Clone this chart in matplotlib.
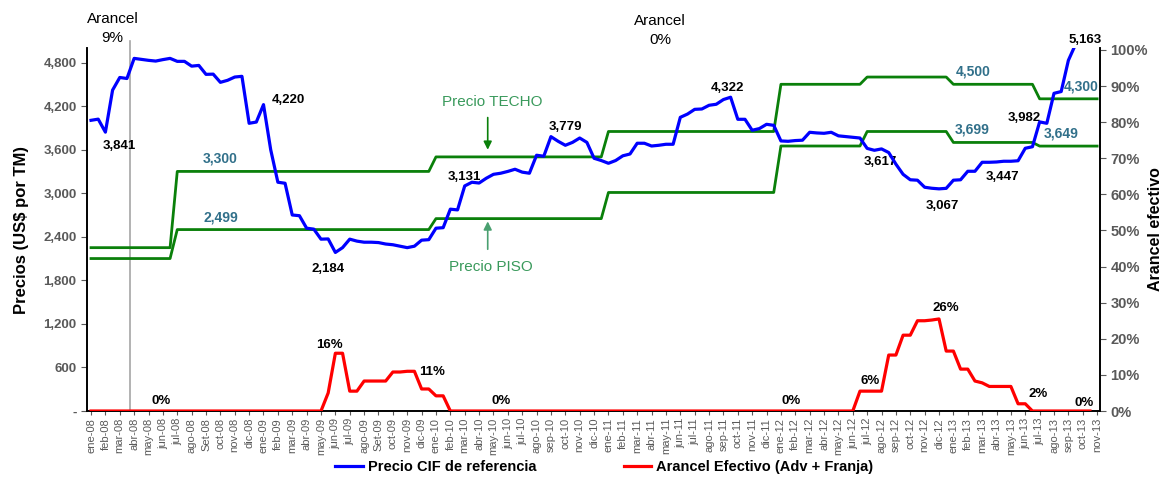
import numpy as np
import matplotlib.pyplot as plt
from matplotlib.ticker import FixedLocator, FuncFormatter

plt.rcParams['font.family'] = ['Liberation Sans', 'DejaVu Sans']

# month labels (ene-08 .. nov-13)
meses = ['ene', 'feb', 'mar', 'abr', 'may', 'jun', 'jul', 'ago', 'sep', 'oct', 'nov', 'dic']
labels = []
for yr in range(8, 14):
    for m in meses:
        if m == 'sep' and yr in (8, 9):
            m = 'Set'
        labels.append(f'{m}-{yr:02d}')
labels = labels[:71]

# Precio CIF de referencia (semi-monthly, US$/TM)
cif = [4004, 4020, 3841, 4420, 4594, 4580, 4857, 4843, 4830, 4820,
       4840, 4857, 4816, 4816, 4750, 4760, 4637, 4640, 4527, 4555,
       4600, 4610, 3963, 3980, 4220, 3600, 3151, 3137, 2700, 2690,
       2518, 2505, 2367, 2370, 2184, 2250, 2367, 2340, 2325, 2325,
       2320, 2300, 2290, 2270, 2250, 2270, 2353, 2360, 2518, 2525,
       2780, 2770, 3100, 3151, 3140, 3206, 3260, 3275, 3300, 3330,
       3290, 3275, 3523, 3509, 3779, 3715, 3660, 3700, 3760, 3700,
       3481, 3450, 3412, 3450, 3515, 3540, 3688, 3688, 3650, 3660,
       3674, 3674, 4045, 4090, 4155, 4160, 4211, 4225, 4290, 4322,
       4018, 4018, 3867, 3890, 3949, 3935, 3720, 3715, 3725, 3730,
       3839, 3830, 3825, 3839, 3790, 3780, 3770, 3760, 3617, 3591,
       3610, 3560, 3400, 3260, 3185, 3179, 3082, 3068, 3060, 3067,
       3179, 3185, 3302, 3302, 3426, 3426, 3430, 3440, 3440, 3447,
       3619, 3640, 3982, 3963, 4376, 4400, 4830, 5050, 5163]

# Franja de precios (level, number of half-months)
techo_niveles = [2250, 3300, 3500, 3850, 4500, 4600, 4500, 4300]
piso_niveles = [2100, 2499, 2650, 3010, 3650, 3850, 3699, 3649]
duracion = [12, 36, 24, 24, 12, 12, 12, 9]

# Arancel efectivo (semi-monthly, %)
arancel = [0] * 33 + [5, 16, 16, 5.5, 5.5, 8.3, 8.3, 8.3, 8.3, 10.8,
                      10.8, 11, 11, 6.1, 6.1, 4.2, 4.2] + [0] * 57 + \
          [5.5, 5.5, 5.5, 5.5, 15.5, 15.5, 21, 21, 25, 25,
           25.2, 25.5, 16.6, 16.6, 11.6, 11.6, 8.3, 7.8, 6.8, 6.8,
           6.8, 6.8, 2, 2] + [0] * 9

techo = np.repeat(techo_niveles, duracion)
piso = np.repeat(piso_niveles, duracion)
t_cif = np.arange(len(cif)) / 2
t_franja = np.arange(len(techo)) / 2
t_ar = np.arange(len(arancel)) / 2

fig = plt.figure(figsize=(11.64, 4.79), dpi=100)
ax = fig.add_axes([87 / 1164, 1 - 411 / 479, (1100 - 87) / 1164, (411 - 48) / 479])
ax2 = ax.twinx()

green = '#0a800a'
ax.plot(t_franja, techo, color=green, lw=2.0, zorder=3)
ax.plot(t_franja, piso, color=green, lw=2.0, zorder=3)
ax.plot(t_cif, cif, color='#0000ff', lw=2.3, zorder=4, label='Precio CIF de referencia')
ax2.plot(t_ar, np.array(arancel) / 100, color='#ff0000', lw=2.3, zorder=4,
         label='Arancel Efectivo (Adv + Franja)')

ax.set_xlim(-0.28, 70.2)
ax.set_ylim(0, 5000)
ax2.set_ylim(0, 1.0055)

gray = '#595959'
ax.yaxis.set_major_locator(FixedLocator(np.arange(0, 5000, 600)))
ax.yaxis.set_major_formatter(FuncFormatter(lambda v, p: '-' if v == 0 else f'{v:,.0f}'))
ax.tick_params(axis='y', labelsize=9.5, labelcolor=gray, length=4, color=gray)
for lb in ax.get_yticklabels():
    lb.set_fontweight('bold')
ax2.yaxis.set_major_locator(FixedLocator(np.arange(0, 1.01, 0.1)))
ax2.yaxis.set_major_formatter(FuncFormatter(lambda v, p: f'{v * 100:.0f}%'))
ax2.tick_params(axis='y', labelsize=10.5, labelcolor=gray, length=4, color=gray)
for lb in ax2.get_yticklabels():
    lb.set_fontweight('bold')

ax.set_xticks(np.arange(len(labels)))
ax.set_xticklabels(labels, rotation=90, fontsize=8, color=gray)
ax.tick_params(axis='x', length=3, color=gray, pad=2)

for a in (ax, ax2):
    a.spines['top'].set_visible(False)
    for s in ('left', 'right', 'bottom'):
        a.spines[s].set_color('black')
        a.spines[s].set_linewidth(1.2)

ax.set_ylabel('Precios (US$ por TM)', fontsize=12, fontweight='bold', labelpad=10)
ax2.set_ylabel('Arancel efectivo', fontsize=11.5, fontweight='bold', labelpad=0)

# vertical marker and tariff notes
ax.axvline(2.71, ymin=0, ymax=1.02, color='#a6a6a6', lw=1.2, clip_on=False, zorder=2)
ax.text(1.5, 5270, 'Arancel\n9%', ha='center', va='center', fontsize=11,
        family=['Liberation Sans Narrow', 'Liberation Sans'], linespacing=1.4)
ax.text(39.6, 5240, 'Arancel\n0%', ha='center', va='center', fontsize=11,
        family=['Liberation Sans Narrow', 'Liberation Sans'], linespacing=1.4)

# price labels
lab_cif = [(2.0, 3841, '3,841', -10), (13.7, 4220, '4,220', 3), (16.5, 2184, '2,184', -12),
           (26.0, 3131, '3,131', 5), (33.0, 3779, '3,779', 7), (44.3, 4322, '4,322', 7),
           (54.9, 3617, '3,617', -10), (59.2, 3067, '3,067', -13), (63.4, 3447, '3,447', -12),
           (64.9, 3982, '3,982', 3), (69.2, 5000, '5,163', 6)]
for x, y, s, dy in lab_cif:
    ax.annotate(s, (x, y), xytext=(0, dy), textcoords='offset points', ha='center',
                va='center', fontsize=9.5, fontweight='bold', annotation_clip=False)

teal = '#31708a'
lab_fr = [(9.0, 3300, '3,300'), (9.0, 2499, '2,499'), (61.4, 4500, '4,500'),
          (68.9, 4300, '4,300'), (61.3, 3699, '3,699'), (67.5, 3649, '3,649')]
for x, y, s in lab_fr:
    ax.annotate(s, (x, y), xytext=(0, 9), textcoords='offset points', ha='center',
                va='center', fontsize=10, fontweight='bold', color=teal)

lab_ar = [(4.9, 0, '0%', 7), (16.6, 0.16, '16%', 6), (23.7, 0.108, '11%', 0),
          (28.5, 0, '0%', 7), (48.7, 0, '0%', 7), (54.2, 0.055, '6%', 7),
          (59.5, 0.255, '26%', 8), (65.9, 0.02, '2%', 7), (69.1, 0, '0%', 6)]
for x, y, s, dy in lab_ar:
    ax2.annotate(s, (x, y), xytext=(0, dy), textcoords='offset points', ha='center',
                 va='center', fontsize=9.5, fontweight='bold')

# franja arrows
txt_green = '#3a9a5c'
ax.annotate('', xy=(27.6, 3560), xytext=(27.6, 4080),
            arrowprops=dict(arrowstyle='-|>', color=green, lw=1.2, mutation_scale=12))
ax.text(27.9, 4250, 'Precio TECHO', ha='center', va='center', fontsize=11, color=txt_green,
        family=['Liberation Sans Narrow', 'Liberation Sans'])
ax.annotate('', xy=(27.6, 2650), xytext=(27.6, 2190),
            arrowprops=dict(arrowstyle='-|>', color='#4aa070', lw=1.2, mutation_scale=12))
ax.text(27.8, 1980, 'Precio PISO', ha='center', va='center', fontsize=11, color=txt_green,
        family=['Liberation Sans Narrow', 'Liberation Sans'])

h1, l1 = ax.get_legend_handles_labels()
h2, l2 = ax2.get_legend_handles_labels()
fig.legend(h1 + h2, l1 + l2, loc='center', bbox_to_anchor=(0.519, 0.025), ncol=2,
           frameon=False, prop={'weight': 'bold', 'size': 10.5}, columnspacing=6,
           handlelength=1.9, handletextpad=0.3)

fig.savefig('out.png', dpi=100)
